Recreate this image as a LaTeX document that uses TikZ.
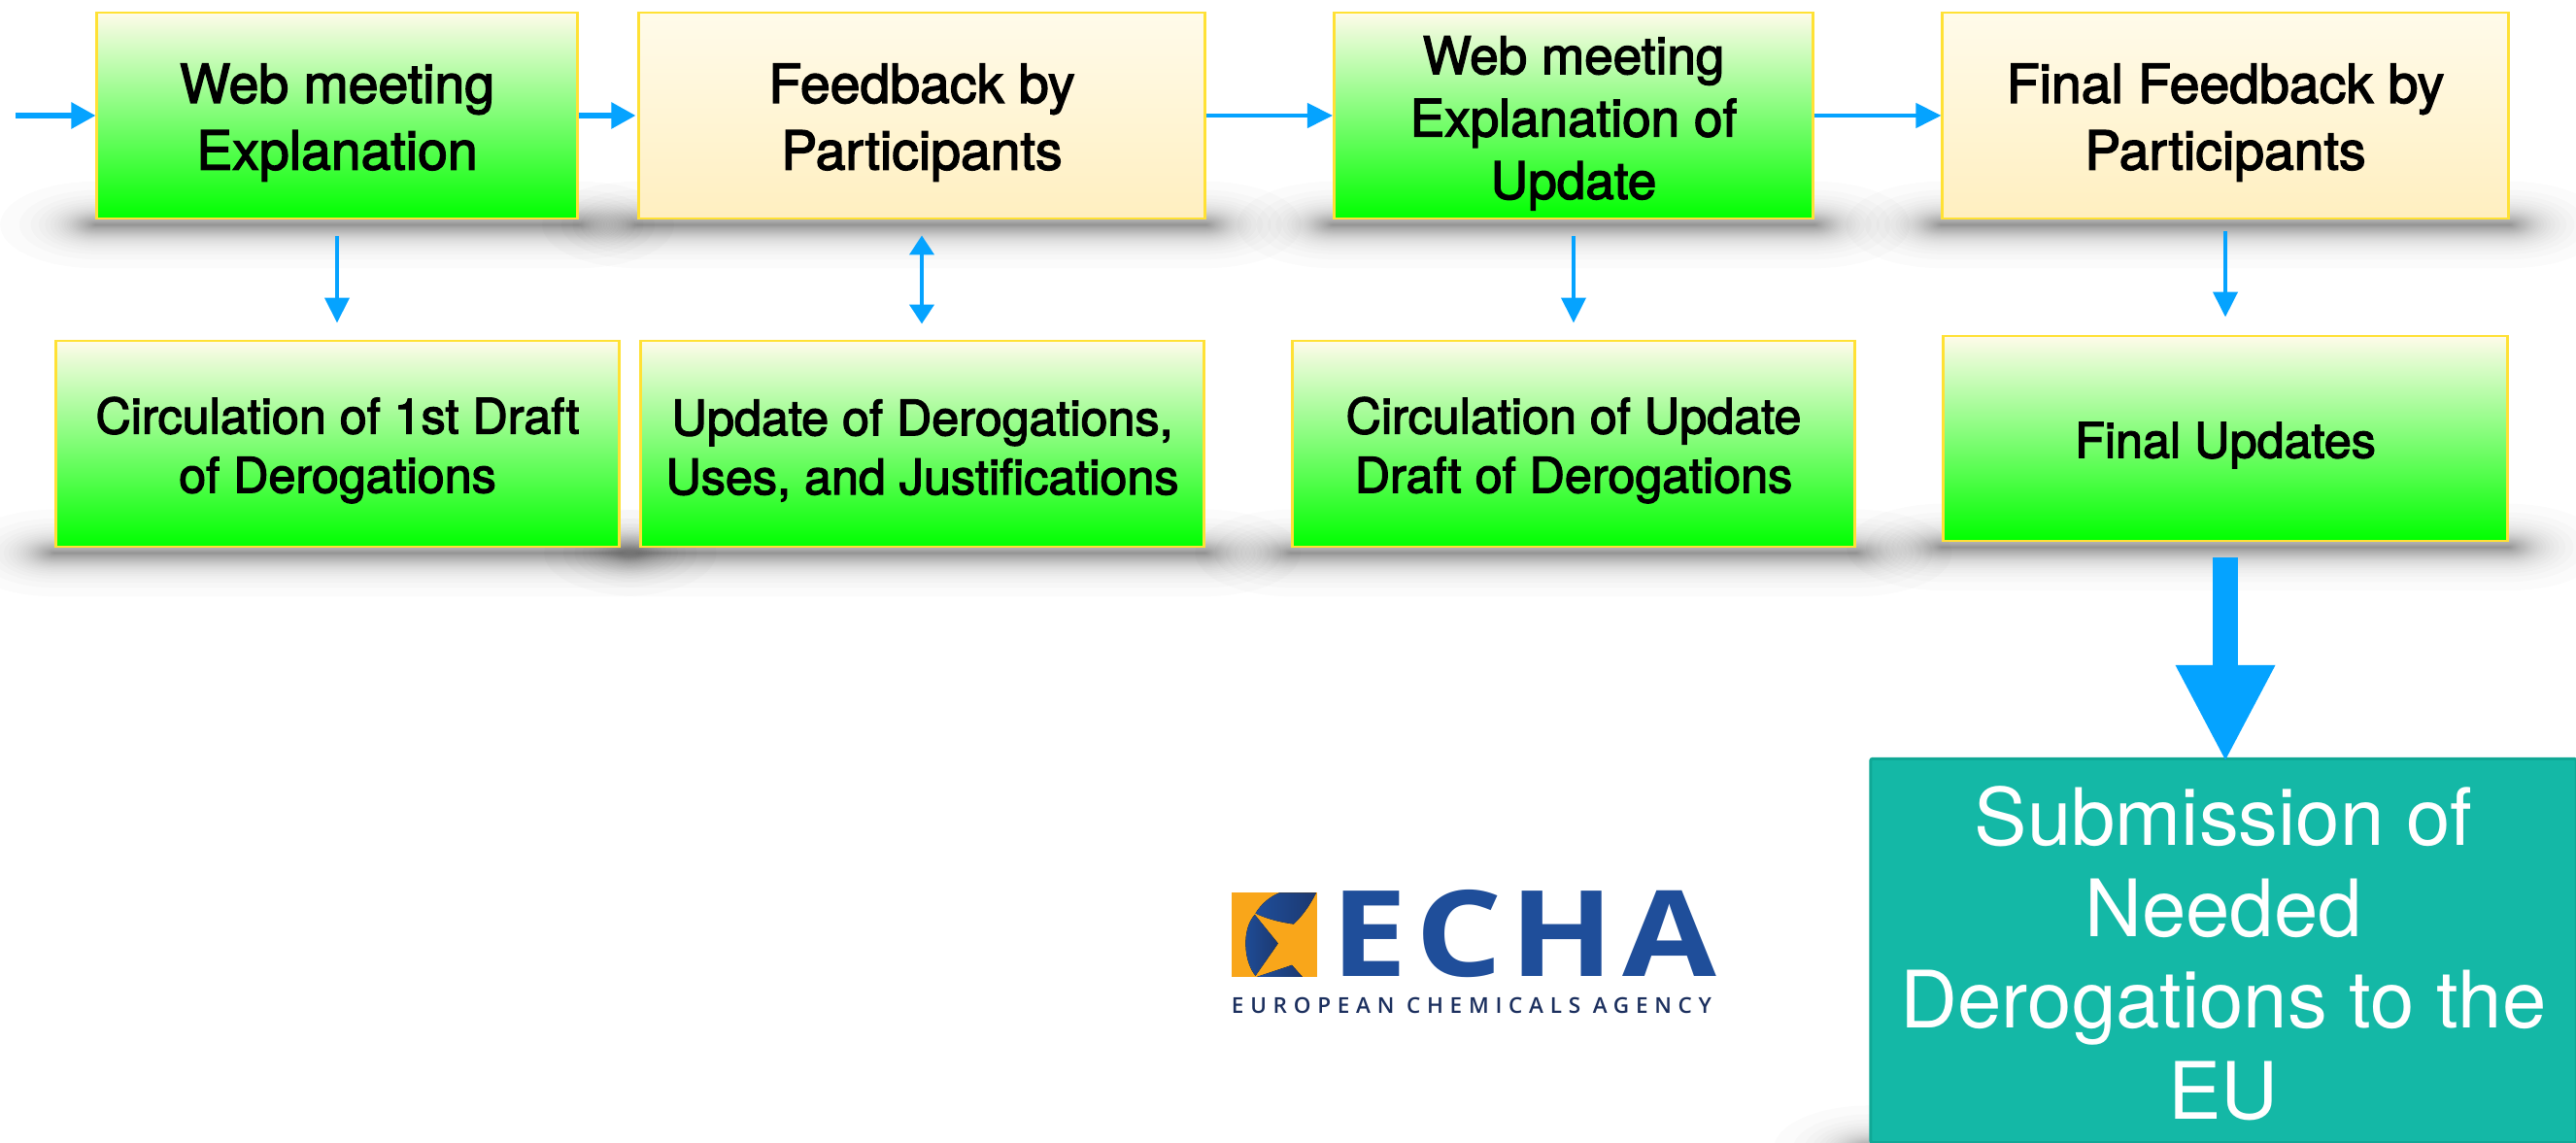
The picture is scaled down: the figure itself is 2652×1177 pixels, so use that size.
\documentclass[tikz,border=0pt]{standalone}
\usepackage{fontspec}
\setmainfont{TeX Gyre Heros}
\newfontfamily\medf{TeX Gyre Heros}[FakeBold=2.5]
\newfontfamily\logobold{Open Sans Bold}[LetterSpace=6]
\newfontfamily\logotag{Open Sans Semibold}[LetterSpace=30]
\usetikzlibrary{arrows.meta,backgrounds,positioning}
\definecolor{flowblue}{HTML}{05A3FF}
\definecolor{boxedge}{HTML}{FFE135}
\definecolor{creamtop}{HTML}{FFFBEA}
\definecolor{creambot}{HTML}{FFEFC0}
\definecolor{teal}{HTML}{14B8A6}
\definecolor{tealedge}{HTML}{10A896}
\definecolor{logoblue}{HTML}{1F4E9A}
\definecolor{logodark}{HTML}{1B2F5E}
\definecolor{logoorange}{HTML}{F9A61A}
\newcommand{\upstrut}{\rule{0pt}{15.5pt}}
\newcommand{\tightstrut}{\rule{0pt}{15.5pt}}
\newcommand{\lowstrut}{\rule{0pt}{14.4pt}}
\newcommand{\bigstrut}{\rule{0pt}{19pt}}
\tikzset{
  basebox/.style={rectangle,draw=boxedge,line width=.028cm,align=center,text=black,inner sep=0pt},
  upperfont/.style={font=\medf\fontsize{15.75}{18.4}\selectfont},
  tightfont/.style={font=\medf\fontsize{15.1}{18.3}\selectfont},
  lowerfont/.style={font=\medf\fontsize{14.3}{17.3}\selectfont},
  greenbox/.style={basebox,top color=creamtop,bottom color=green,middle color={green!50!creamtop}},
  creambox/.style={basebox,top color=creamtop,bottom color=creambot},
  flow/.style={draw=flowblue,line width=.055cm,-{Triangle[length=.25cm,width=.26cm]}},
  flowthin/.style={draw=flowblue,line width=.042cm,-{Triangle[length=.26cm,width=.25cm]}},
  flowboth/.style={draw=flowblue,line width=.042cm,{Triangle[length=.2cm,width=.25cm]}-{Triangle[length=.2cm,width=.25cm]}},
  flowbig/.style={draw=flowblue,line width=.265cm,-{Triangle[length=1cm,width=.95cm]}},
  submitbox/.style={rectangle,fill=teal,draw=tealedge,line width=.03cm,rounded corners=.02cm,align=center,text=white,inner sep=0pt,
    font=\fontsize{23.2}{26.7}\selectfont},
}
% soft lens-shaped shadow under a node, exponential falloff
\newcommand{\softshadow}[1]{%
  \foreach \i in {1,...,30}{
    \pgfmathsetmacro{\ry}{.13*ln(31/\i)}
    \pgfmathsetmacro{\rx}{2.2*\ry}
    \fill[black,opacity=.017]
      ([xshift=-\rx cm,yshift=-.05cm]#1.south west)
      arc[start angle=180,end angle=90,x radius=\rx cm,y radius=\ry cm]
      -- ([yshift=\ry cm-.05cm]#1.south east)
      arc[start angle=90,end angle=-90,x radius=\rx cm,y radius=\ry cm]
      -- ([yshift=-\ry cm-.05cm]#1.south west)
      arc[start angle=270,end angle=180,x radius=\rx cm,y radius=\ry cm]
      -- cycle;
  }
}
\begin{document}
\begin{tikzpicture}[x=.01cm,y=-.01cm]
\useasboundingbox (0,0) rectangle (2652,1177);
% upper row
\node[greenbox,upperfont,minimum width=4.94cm,minimum height=2.12cm] (a) at (347,119) {\upstrut Web meeting\\[.04cm]Explanation};
\node[creambox,upperfont,minimum width=5.82cm,minimum height=2.12cm] (b) at (949,119) {\upstrut Feedback by\\[.04cm]Participants};
\node[greenbox,tightfont,minimum width=4.93cm,minimum height=2.12cm] (c) at (1620,119) {\tightstrut Web meeting\\Explanation of\\Update};
\node[creambox,upperfont,minimum width=5.82cm,minimum height=2.12cm] (d) at (2291,119) {\upstrut Final Feedback by\\[.04cm]Participants};
% lower row
\node[greenbox,lowerfont,minimum width=5.8cm,minimum height=2.12cm] (e) at (347.5,457) {\lowstrut Circulation of 1st Draft\\of Derogations};
\node[greenbox,lowerfont,minimum width=5.79cm,minimum height=2.12cm] (f) at (949.5,457) {\lowstrut Update of Derogations,\\Uses, and Justifications};
\node[greenbox,lowerfont,minimum width=5.79cm,minimum height=2.12cm] (g) at (1620,457) {\lowstrut Circulation of Update\\Draft of Derogations};
\node[greenbox,lowerfont,minimum width=5.8cm,minimum height=2.11cm] (h) at (2291,451.5) {\lowstrut Final Updates};
% submission
\node[submitbox,minimum width=7.26cm,minimum height=3.95cm] (sub) at (2289,979) {\bigstrut Submission of\\Needed\\Derogations to the\\EU};
\begin{scope}[on background layer]
  \fill[white] (0,0) rectangle (2652,1177);
  \begin{scope}
    \clip (0,0) rectangle (2652,1177);
    \foreach \n in {a,b,c,d,e,f,g,h,sub}{\softshadow{\n}}
  \end{scope}
\end{scope}
% connectors
\coordinate (start) at (16,119);
\draw[flow] (start) -- (a.west);
\draw[flow] (a.east) -- ([xshift=-.02cm]b.west);
\draw[flowthin] (b.east) -- (c.west);
\draw[flowthin] (c.east) -- (d.west);
\draw[flowthin] ([yshift=-.17cm]a.south) -- ([yshift=.17cm]a.south |- e.north);
\draw[flowboth] ([yshift=-.16cm]b.south) -- ([yshift=.16cm]b.south |- f.north);
\draw[flowthin] ([yshift=-.17cm]c.south) -- ([yshift=.17cm]c.south |- g.north);
\draw[flowthin] ([yshift=-.12cm]d.south) -- ([yshift=.18cm]d.south |- h.north);
\draw[flowbig] ([yshift=-.16cm]h.south) -- ([yshift=-.05cm]h.south |- sub.north);
% logo
\begin{scope}[shift={(1230,880)},x=.003571cm,y=-.003333cm,logopiece/.style={left color=logoblue,right color=logodark!70!logoblue}]
  \fill[logoorange] (107,118) rectangle (352,378);
  \fill[logopiece] (245,118) -- (350,118) .. controls (330,160) and (310,190) .. (285,215) .. controls (250,210) and (210,200) .. (175,182) .. controls (190,155) and (215,130) .. (245,118) -- cycle;
  \fill[logopiece] (173,186) -- (240,275) -- (175,375) .. controls (140,330) and (135,230) .. (173,186) -- cycle;
  \fill[logopiece] (180,378) -- (280,342) -- (310,378) -- cycle;
\end{scope}
\node[inner sep=0pt,text=logoblue,font=\logobold\fontsize{35}{35}\selectfont,xscale=1.14] (echa) at (1569,962) {ECHA};
\node[inner sep=0pt,text=logodark,font=\logotag\fontsize{6.4}{7}\selectfont] (agency) at (1515,1035) {EUROPEAN CHEMICALS AGENCY};
\end{tikzpicture}
\end{document}
